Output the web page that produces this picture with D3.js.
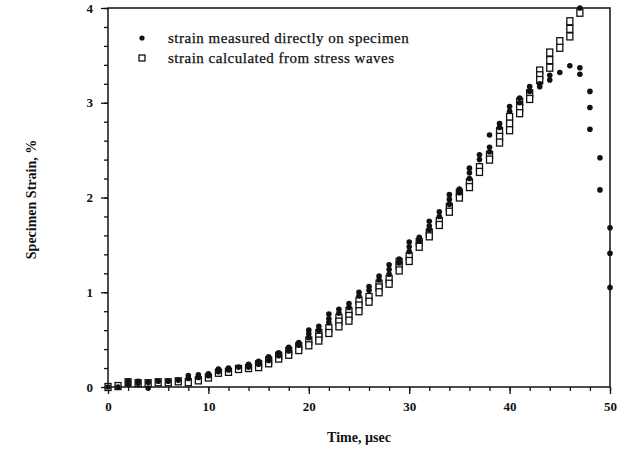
<!DOCTYPE html>
<html lang="en">
<head>
<meta charset="UTF-8">
<title>Specimen Strain vs Time</title>
<script src="https://d3js.org/d3.v7.min.js"></script>
<style>
  body { margin: 0; background: #fff; }
  svg { font-family: "Liberation Serif", "Times New Roman", serif; }
  .tick text { font-size: 13px; font-weight: bold; fill: #111; }
  .tick line { stroke: #111; stroke-width: 1.3; }
  .title { font-size: 14px; font-weight: bold; fill: #111; }
  .legend { font-size: 15px; letter-spacing: 0.5px; fill: #111; stroke: #111; stroke-width: 0.25; }
</style>
</head>
<body>
<script>
// time in microseconds, one column of readings per time
const times = [0, 1, 2, 3, 4, 5, 6, 7, 8, 9, 10, 11, 12, 13, 14, 15, 16, 17, 18, 19,
  20, 21, 22, 23, 24, 25, 26, 27, 28, 29, 30, 31, 32, 33, 34, 35, 36, 37, 38, 39,
  40, 41, 42, 43, 44, 45, 46, 47, 48, 49, 50];

// strain measured directly on specimen (%)
const measured = [
  [0.0], [0.0], [0.06, 0.03], [0.06, 0.04], [0.05, -0.01],
  [0.06], [0.06], [0.07], [0.12, 0.09], [0.13, 0.10],
  [0.14, 0.12], [0.19, 0.16], [0.20, 0.18], [0.21], [0.24, 0.21],
  [0.27, 0.24], [0.32, 0.28], [0.36, 0.33], [0.42, 0.38], [0.47, 0.44],
  [0.60, 0.56, 0.52], [0.64, 0.60], [0.77, 0.72, 0.68], [0.82, 0.78], [0.88, 0.84],
  [1.00, 0.96], [1.06, 1.02], [1.17, 1.13], [1.29, 1.24, 1.19], [1.35, 1.31],
  [1.53, 1.48, 1.43], [1.58, 1.54], [1.75, 1.70, 1.66], [1.85, 1.80], [2.03, 1.98, 1.93],
  [2.09, 2.05], [2.31, 2.26, 2.20], [2.45, 2.40], [2.66, 2.53, 2.48], [2.78, 2.74],
  [2.96, 2.91], [3.05, 3.00], [3.17, 3.12], [3.20, 3.17], [3.29, 3.24],
  [3.32], [3.39], [4.00, 3.37, 3.30], [3.12, 2.95, 2.72], [2.42, 2.08],
  [1.68, 1.41, 1.05]
];

// strain calculated from stress waves (%), stops at 47 usec
const calculated = [
  [0.0], [0.01], [0.05], [0.04], [0.04], [0.05], [0.05], [0.06], [0.05], [0.07],
  [0.10], [0.15], [0.16], [0.19], [0.20], [0.24, 0.21], [0.28, 0.25], [0.33, 0.30], [0.38, 0.34], [0.43, 0.39],
  [0.49, 0.44], [0.57, 0.53, 0.49], [0.62, 0.57], [0.73, 0.69, 0.64], [0.80, 0.75, 0.70],
  [0.91, 0.86, 0.80], [0.95, 0.90], [1.09, 1.05, 1.00], [1.14, 1.09], [1.32, 1.28, 1.23],
  [1.38, 1.33], [1.53, 1.48], [1.63, 1.59], [1.75, 1.71], [1.90, 1.85],
  [2.05, 2.00], [2.16, 2.11], [2.32, 2.27], [2.45, 2.40], [2.70, 2.64, 2.58],
  [2.85, 2.78, 2.71], [3.01, 2.95, 2.89], [3.10, 3.04], [3.34, 3.29, 3.24], [3.53, 3.45, 3.37],
  [3.65, 3.58], [3.86, 3.78, 3.70], [3.95]
];

const xMajor = [0, 10, 20, 30, 40, 50];
const yMajor = [0, 1, 2, 3, 4];
const legendLabels = ["strain measured directly on specimen", "strain calculated from stress waves"];

const width = 629, height = 457;
const plotLeft = 108, plotRight = 610, plotTop = 8, plotBottom = 387;

const svg = d3.select("body").append("svg")
  .attr("width", width)
  .attr("height", height);

svg.append("rect").attr("width", width).attr("height", height).attr("fill", "#fff");

const x = d3.scaleLinear().domain([0, 50]).range([plotLeft, plotRight]);
const y = d3.scaleLinear().domain([0, 4]).range([plotBottom, plotTop]);

// minor ticks first, then major ticks with labels
svg.append("g")
  .attr("transform", `translate(0,${plotBottom})`)
  .call(d3.axisBottom(x).tickValues(d3.range(0, 51, 2)).tickSize(4).tickFormat(""))
  .call(g => g.select(".domain").remove());

svg.append("g")
  .attr("transform", `translate(0,${plotBottom})`)
  .call(d3.axisBottom(x).tickValues(xMajor).tickSize(7).tickPadding(8).tickFormat(d3.format("d")))
  .call(g => g.select(".domain").remove())
  .call(g => g.attr("font-family", null));

svg.append("g")
  .attr("transform", `translate(${plotLeft},0)`)
  .call(d3.axisLeft(y).tickValues(d3.range(0, 4.01, 0.2)).tickSize(4).tickFormat(""))
  .call(g => g.select(".domain").remove());

svg.append("g")
  .attr("transform", `translate(${plotLeft},0)`)
  .call(d3.axisLeft(y).tickValues(yMajor).tickSize(7).tickPadding(8).tickFormat(d3.format("d")))
  .call(g => g.select(".domain").remove())
  .call(g => g.attr("font-family", null));

// frame
svg.append("rect")
  .attr("x", plotLeft).attr("y", plotTop)
  .attr("width", plotRight - plotLeft).attr("height", plotBottom - plotTop)
  .attr("fill", "none").attr("stroke", "#111").attr("stroke-width", 1.5);

const flatten = (series) => series.flatMap((vals, i) => vals.map(v => ({ t: times[i], v: v })));

// open squares
svg.append("g").selectAll("rect")
  .data(flatten(calculated))
  .enter().append("rect")
  .attr("x", d => x(d.t) - 3)
  .attr("y", d => y(d.v) - 3.5)
  .attr("width", 6)
  .attr("height", 7)
  .attr("fill", "#fff")
  .attr("stroke", "#111")
  .attr("stroke-width", 1.3);

// filled dots
svg.append("g").selectAll("circle")
  .data(flatten(measured))
  .enter().append("circle")
  .attr("cx", d => x(d.t))
  .attr("cy", d => y(d.v))
  .attr("r", 2.8)
  .attr("fill", "#111");

// legend
const legend = svg.append("g");
legend.append("circle").attr("cx", 142).attr("cy", 38).attr("r", 2.6).attr("fill", "#111");
legend.append("rect").attr("x", 139).attr("y", 55).attr("width", 6).attr("height", 6)
  .attr("fill", "#fff").attr("stroke", "#111").attr("stroke-width", 1.3);
legend.selectAll("text")
  .data(legendLabels)
  .enter().append("text")
  .attr("class", "legend")
  .attr("x", 168)
  .attr("y", (d, i) => 43 + i * 20)
  .text(d => d);

// axis titles
svg.append("text")
  .attr("class", "title")
  .attr("x", (plotLeft + plotRight) / 2)
  .attr("y", 442)
  .attr("text-anchor", "middle")
  .text("Time, \u00b5sec");

svg.append("text")
  .attr("class", "title")
  .attr("transform", `translate(36,${(plotTop + plotBottom) / 2 + 2}) rotate(-90)`)
  .attr("text-anchor", "middle")
  .text("Specimen Strain, %");
</script>
</body>
</html>
